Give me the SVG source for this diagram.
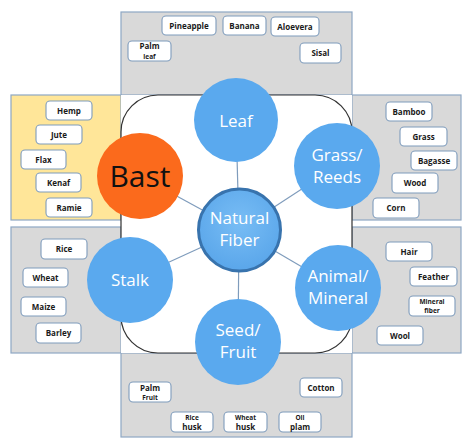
<svg xmlns="http://www.w3.org/2000/svg" width="474" height="445" viewBox="0 0 474 445">
<defs>
<style>
.panel{fill:#d9d9d9;stroke:#8ea7c4;stroke-width:1.2}
.yel{fill:#ffe699;stroke:#8ea7c4;stroke-width:1.2}
.box{fill:#ffffff;stroke:#7f9cbc;stroke-width:1.1}
.bt{font-family:"Open Sans","Liberation Sans",sans-serif;font-weight:bold;font-size:8px;fill:#1a1a1a;text-anchor:middle}
.bts{font-family:"Open Sans","Liberation Sans",sans-serif;font-weight:bold;font-size:6.5px;fill:#1a1a1a;text-anchor:middle}
.circ{fill:#5aa9ee}
.ct{font-family:"Open Sans","Liberation Sans",sans-serif;font-size:17px;fill:#ffffff;text-anchor:middle}
.conn{stroke:#7f9cbc;stroke-width:1.2;fill:none}
</style>
<radialGradient id="nf" cx="50%" cy="40%" r="60%">
<stop offset="0" stop-color="#78bdf5"/>
<stop offset="1" stop-color="#5aa6ea"/>
</radialGradient>
</defs>
<rect width="474" height="445" fill="#ffffff"/>
<g id="panels">
<rect class="panel" x="121" y="12" width="231" height="83"/>
<rect class="yel" x="11" y="95" width="110" height="125"/>
<rect class="panel" x="352" y="95" width="109" height="125"/>
<rect class="panel" x="11" y="227" width="110" height="126"/>
<rect class="panel" x="352" y="227" width="109" height="126"/>
<rect class="panel" x="121" y="353" width="231" height="84"/>
<rect x="121" y="95" width="231" height="258" fill="#ffffff"/>
<rect x="121" y="95" width="231" height="258" rx="37" fill="none" stroke="#333333" stroke-width="1.2"/>
</g>
<g id="connectors">
<line class="conn" x1="239" y1="230" x2="236" y2="120"/>
<line class="conn" x1="239" y1="230" x2="140" y2="176"/>
<line class="conn" x1="239" y1="230" x2="337" y2="166"/>
<line class="conn" x1="239" y1="230" x2="130" y2="280"/>
<line class="conn" x1="239" y1="230" x2="338" y2="288"/>
<line class="conn" x1="239" y1="230" x2="238" y2="342"/>
</g>
<g id="leaf"><circle class="circ" cx="236" cy="120" r="42"/><text class="ct" x="236" y="127" font-size="19">Leaf</text></g>
<g id="bast"><circle cx="140" cy="176" r="43" fill="#fb6a1c"/><text x="140" y="187" font-family="'Open Sans','Liberation Sans',sans-serif" font-size="30" fill="#111111" text-anchor="middle">Bast</text></g>
<g id="grass"><circle class="circ" cx="337" cy="166" r="43"/><text class="ct" x="337" y="161">Grass/</text><text class="ct" x="337" y="183">Reeds</text></g>
<g id="stalk"><circle class="circ" cx="130" cy="280" r="43"/><text class="ct" x="130" y="286">Stalk</text></g>
<g id="animal"><circle class="circ" cx="338" cy="288" r="43"/><text class="ct" x="338" y="282">Animal/</text><text class="ct" x="338" y="304">Mineral</text></g>
<g id="seed"><circle class="circ" cx="238" cy="342" r="43"/><text class="ct" x="238" y="336">Seed/</text><text class="ct" x="238" y="358">Fruit</text></g>
<g id="natural"><circle cx="239.5" cy="230" r="41" fill="url(#nf)" stroke="#3873ad" stroke-width="3"/><text class="ct" x="239.5" y="224" font-size="15">Natural</text><text class="ct" x="239.5" y="246" font-size="15">Fiber</text></g>
<g id="pineapple"><rect class="box" x="162" y="16" width="54" height="19" rx="4"/><text class="bt" x="189" y="28.5">Pineapple</text></g>
<g id="banana"><rect class="box" x="223" y="16" width="43" height="19" rx="4"/><text class="bt" x="244.5" y="28.5">Banana</text></g>
<g id="aloevera"><rect class="box" x="271" y="17" width="48" height="19" rx="4"/><text class="bt" x="295" y="29.5">Aloevera</text></g>
<g id="palmleaf"><rect class="box" x="128" y="41" width="43" height="20" rx="4"/><text class="bt" x="149.5" y="49">Palm</text><text class="bts" x="149.5" y="59">leaf</text></g>
<g id="sisal"><rect class="box" x="300" y="43" width="41" height="20" rx="4"/><text class="bt" x="320.5" y="56">Sisal</text></g>
<g id="hemp"><rect class="box" x="46" y="101" width="46" height="19" rx="4"/><text class="bt" x="69" y="113.5">Hemp</text></g>
<g id="jute"><rect class="box" x="36" y="125" width="46" height="19" rx="4"/><text class="bt" x="59" y="137.5">Jute</text></g>
<g id="flax"><rect class="box" x="21" y="150" width="45" height="19" rx="4"/><text class="bt" x="43.5" y="162.5">Flax</text></g>
<g id="kenaf"><rect class="box" x="36" y="173" width="45" height="19" rx="4"/><text class="bt" x="58.5" y="185.5">Kenaf</text></g>
<g id="ramie"><rect class="box" x="46" y="198" width="46" height="19" rx="4"/><text class="bt" x="69" y="210.5">Ramie</text></g>
<g id="bamboo"><rect class="box" x="386" y="102" width="46" height="19" rx="4"/><text class="bt" x="409" y="114.5">Bamboo</text></g>
<g id="grassbox"><rect class="box" x="400" y="127" width="47" height="19" rx="4"/><text class="bt" x="423.5" y="139.5">Grass</text></g>
<g id="bagasse"><rect class="box" x="411" y="151" width="46" height="19" rx="4"/><text class="bt" x="434" y="163.5">Bagasse</text></g>
<g id="wood"><rect class="box" x="392" y="173" width="46" height="20" rx="4"/><text class="bt" x="415" y="186">Wood</text></g>
<g id="corn"><rect class="box" x="373" y="198" width="46" height="20" rx="4"/><text class="bt" x="396" y="211">Corn</text></g>
<g id="rice"><rect class="box" x="41" y="239" width="46" height="20" rx="4"/><text class="bt" x="64" y="252">Rice</text></g>
<g id="wheat"><rect class="box" x="23" y="268" width="45" height="19" rx="4"/><text class="bt" x="45.5" y="280.5">Wheat</text></g>
<g id="maize"><rect class="box" x="21" y="297" width="45" height="19" rx="4"/><text class="bt" x="43.5" y="309.5">Maize</text></g>
<g id="barley"><rect class="box" x="36" y="323" width="45" height="20" rx="4"/><text class="bt" x="58.5" y="336">Barley</text></g>
<g id="hair"><rect class="box" x="386" y="242" width="46" height="19" rx="4"/><text class="bt" x="409" y="254.5">Hair</text></g>
<g id="feather"><rect class="box" x="410" y="267" width="47" height="19" rx="4"/><text class="bt" x="433.5" y="279.5">Feather</text></g>
<g id="mineralfiber"><rect class="box" x="409" y="296" width="46" height="20" rx="4"/><text class="bts" x="432" y="304">Mineral</text><text class="bts" x="432" y="313">fiber</text></g>
<g id="wool"><rect class="box" x="377" y="326" width="46" height="19" rx="4"/><text class="bt" x="400" y="338.5">Wool</text></g>
<g id="palmfruit"><rect class="box" x="129" y="382" width="42" height="20" rx="4"/><text class="bt" x="150" y="391">Palm</text><text class="bts" x="150" y="399.5">Fruit</text></g>
<g id="cotton"><rect class="box" x="300" y="378" width="42" height="19" rx="4"/><text class="bt" x="321" y="390.5">Cotton</text></g>
<g id="ricehusk"><rect class="box" x="171" y="412" width="42" height="20" rx="4"/><text class="bts" x="192" y="420">Rice</text><text class="bt" x="192" y="429.5">husk</text></g>
<g id="wheathusk"><rect class="box" x="224" y="412" width="43" height="20" rx="4"/><text class="bts" x="245.5" y="420">Wheat</text><text class="bt" x="245.5" y="429.5">husk</text></g>
<g id="oilplam"><rect class="box" x="279" y="412" width="42" height="20" rx="4"/><text class="bts" x="300" y="420">Oil</text><text class="bt" x="300" y="429.5">plam</text></g>
</svg>
